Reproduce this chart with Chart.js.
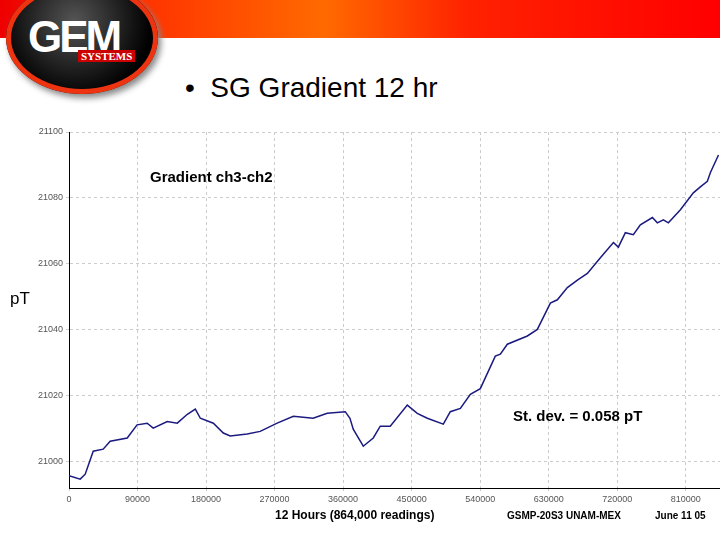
<!DOCTYPE html>
<html><head><meta charset="utf-8">
<script src="https://cdn.jsdelivr.net/npm/chart.js@4/dist/chart.umd.min.js"></script>
<style>
body{margin:0;width:720px;height:540px;overflow:hidden;background:#fff;font-family:"Liberation Sans",Arial,sans-serif;position:relative}
#band{position:absolute;left:0;top:0;width:720px;height:38px;background:linear-gradient(90deg,#e00 0%,#f30 20%,#ff6a00 45%,#f20 65%,#f00 100%)}
#logo{position:absolute;left:6px;top:-18px;width:152px;height:112px;border-radius:50%;background:radial-gradient(circle at 45% 35%,#555 0%,#111 55%,#000 70%);box-shadow:0 0 0 5px #e31 inset,3px 4px 6px #888}
#logo .g{position:absolute;left:22px;top:30px;color:#fff;font:bold 44px "Liberation Sans Narrow","Liberation Sans";letter-spacing:-3px}
#logo .s{position:absolute;left:72px;top:68px;background:#c00;color:#fff;font:bold 11px "Liberation Sans Narrow";padding:0 3px}
#title{position:absolute;left:185px;top:72px;font-size:28px;color:#000}
canvas{position:absolute;left:0;top:0}
</style></head><body>
<div id="band"></div>
<div id="logo"><span class="g">GEM</span><span class="s">SYSTEMS</span></div>
<div id="title">•&nbsp; SG Gradient 12 hr</div>
<canvas id="c" width="720" height="540"></canvas>
<script>
const readings=[
 0,14700,21300,31800,44900,54100,76500,89400,102700,110600,
 129000,142200,155400,165900,172500,189600,202700,211700,234000,251100,
 273400,294600,320600,339100,362800,369000,373300,386500,399600,408800,
 421900,444300,457400,470600,491600,500800,514000,527100,540200,559900,
 566500,575700,602000,615100,632200,641400,654500,667700,680800,697900,
 715000,721500,730700,741200,750400,766200,772700,780600,787200,803000,
 820000,829200,838400,842300,853000];
const gradient=[
 20995.5,20994.5,20996,21003,21003.6,21006,21007,21011,21011.5,21010,
 21012,21011.5,21014.2,21015.8,21013,21011.5,21008.5,21007.6,21008.2,21009,
 21011.5,21013.6,21013,21014.5,21015,21013,21009.7,21004.5,21007,21010.6,
 21010.6,21017,21014.5,21013,21011.2,21015,21016,21020.3,21022,21031.9,
 21032.5,21035.5,21038,21040,21048,21049,21052.7,21055,21057,21061.8,
 21066.4,21065,21069.4,21068.8,21071.8,21074,21072.4,21073.3,21072.4,21076.4,
 21081.5,21083.3,21085,21087.6,21093];
const xTicks=[0,90000,180000,270000,360000,450000,540000,630000,720000,810000];
const yTicks=[21000,21020,21040,21060,21080,21100];
const pts=readings.map((r,i)=>({x:r,y:gradient[i]}));
const texts={
 id:'texts',
 afterDraw(c){const x=c.ctx;x.save();x.fillStyle='#000';x.textBaseline='alphabetic';
  x.font='bold 15px "Liberation Sans"';x.fillText('Gradient ch3-ch2',150,182);
  x.fillText('St. dev. = 0.058 pT',513,421);
  x.font='17px "Liberation Sans"';x.fillText('pT',10,304);
  x.font='bold 12px "Liberation Sans"';x.fillText('12 Hours (864,000 readings)',275,519);
  x.font='bold 10px "Liberation Sans"';x.fillText('GSMP-20S3 UNAM-MEX',507,519);x.fillText('June 11 05',655,519);
  x.restore();}
};
new Chart(document.getElementById('c'),{type:'line',
 data:{datasets:[{data:pts,borderColor:'#1a1a80',borderWidth:1.5,pointRadius:0,tension:0}]},
 plugins:[texts],
 options:{responsive:false,animation:false,
  layout:{padding:{top:132,right:0,bottom:32,left:0}},
  plugins:{legend:{display:false},tooltip:{enabled:false}},
  scales:{
   x:{type:'linear',min:0,max:855000,
    afterBuildTicks:s=>{s.ticks=xTicks.map(v=>({value:v}))},
    afterFit:s=>{s.height=20},
    ticks:{font:{size:9},color:'#555',maxRotation:0,callback:v=>String(v)},
    grid:{color:'#ccc',tickLength:3,drawTicks:true},border:{color:'#000',dash:[3,3]}},
   y:{min:20991.8,max:21100,
    afterBuildTicks:s=>{s.ticks=yTicks.map(v=>({value:v}))},
    afterFit:s=>{s.width=69},
    ticks:{font:{size:9},color:'#555',callback:v=>String(v)},
    grid:{color:'#ccc',tickLength:3},border:{color:'#000',dash:[3,3]}}
  }}});
</script></body></html>
